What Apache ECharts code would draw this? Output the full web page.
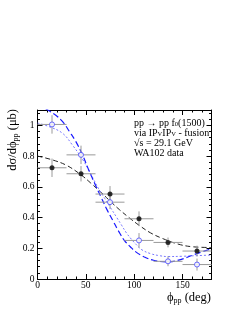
<!DOCTYPE html>
<html>
<head>
<meta charset="utf-8">
<script src="https://cdn.jsdelivr.net/npm/echarts@6/dist/echarts.min.js"></script>
<style>html,body{margin:0;padding:0;background:#fff}#c{width:241px;height:312px}</style>
</head>
<body>
<div id="c"></div>
<script>
// ---- data ----
var binCenters = [15, 45, 75, 105, 135, 165];
var binHalfWidth = 15;
var blackValues = [0.724, 0.685, 0.553, 0.392, 0.238, 0.182];
var blackErrors = [0.060, 0.050, 0.052, 0.048, 0.032, 0.035];
var blueValues  = [1.006, 0.808, 0.500, 0.251, 0.115, 0.094];
var blueErrors  = [0.060, 0.060, 0.045, 0.048, 0.032, 0.039];

var blackCurveX = [0, 15, 30, 45, 55, 65, 75, 85, 95, 105, 117, 130, 145, 160, 180];
var blackCurveY = [0.80, 0.776, 0.74, 0.678, 0.625, 0.568, 0.508, 0.45, 0.398, 0.35, 0.30, 0.262, 0.228, 0.21, 0.205];

var blueDashX = [0, 5, 10.6, 18, 26, 33, 39.7, 46.5, 53, 60, 66, 72, 78, 84, 90, 96, 102, 110, 120, 134, 148, 162, 180];
var blueDashY = [1.13, 1.12, 1.10, 1.07, 1.024, 0.96, 0.894, 0.808, 0.71, 0.61, 0.53, 0.45, 0.38, 0.31, 0.25, 0.21, 0.175, 0.145, 0.122, 0.111, 0.126, 0.159, 0.197];

var blueDotX = [0, 12, 26, 36, 46.5, 52, 57.5, 63, 69.5, 76, 82, 87, 92, 97, 102, 108, 117, 126, 135, 150, 165, 180];
var blueDotY = [1.015, 0.992, 0.948, 0.873, 0.78, 0.72, 0.655, 0.59, 0.525, 0.46, 0.40, 0.35, 0.30, 0.26, 0.225, 0.19, 0.165, 0.152, 0.146, 0.148, 0.152, 0.156];

var xTicks = [0, 50, 100, 150];
var yTicks = [0, 0.2, 0.4, 0.6, 0.8, 1];

function zip(a, b) { return a.map(function (v, i) { return [v, b[i]]; }); }

var FONT = '"Liberation Serif", "DejaVu Serif", serif';
var BLUE_DASH = '#1a1aff';
var BLUE_DOT = '#7777ff';
var BLUE_MARK = '#4646ff';
var ERR = '#9a9a9a';

function errorSeries(vals, errs, z) {
  return {
    type: 'custom',
    z: z,
    silent: true,
    data: binCenters.map(function (x, i) { return [x, vals[i], errs[i]]; }),
    renderItem: function (params, api) {
      var x = api.value(0), y = api.value(1), e = api.value(2);
      var l = api.coord([x - binHalfWidth, y]);
      var r = api.coord([x + binHalfWidth, y]);
      var t = api.coord([x, y + e]);
      var b = api.coord([x, y - e]);
      var st = { stroke: ERR, lineWidth: 1 };
      return {
        type: 'group',
        children: [
          { type: 'line', shape: { x1: l[0], y1: l[1], x2: r[0], y2: r[1] }, style: st },
          { type: 'line', shape: { x1: t[0], y1: t[1], x2: b[0], y2: b[1] }, style: st }
        ]
      };
    }
  };
}

var axisCommon = {
  type: 'value',
  axisLine: { show: true, onZero: false, lineStyle: { color: '#000', width: 1 } },
  splitLine: { show: false },
  axisTick: { show: true, inside: true, length: 5, lineStyle: { color: '#000' } },
  minorTick: { show: true, splitNumber: 5, length: 2.5, lineStyle: { color: '#000' } }
};

var richTitle = {
  n: { fontFamily: FONT, fontSize: 12.5, lineHeight: 14, verticalAlign: 'middle', fill: '#000' },
  s: { fontFamily: FONT, fontSize: 8, lineHeight: 4, verticalAlign: 'bottom', fill: '#000' }
};

var chart = echarts.init(document.getElementById('c'), null, { renderer: 'canvas' });
chart.setOption({
  animation: false,
  backgroundColor: '#fff',
  grid: { left: 37.5, right: 29.5, top: 110, bottom: 33, containLabel: false },
  xAxis: [
    Object.assign({}, axisCommon, {
      min: 0, max: 180, interval: 50, position: 'bottom',
      axisLabel: {
        show: true, margin: 1, color: '#000', fontFamily: FONT, fontSize: 9.5,
        showMaxLabel: false,
        formatter: function (v) { return xTicks.indexOf(v) >= 0 ? String(v) : ''; }
      }
    }),
    Object.assign({}, axisCommon, {
      min: 0, max: 180, interval: 50, position: 'top',
      axisLabel: { show: false }
    })
  ],
  yAxis: [
    Object.assign({}, axisCommon, {
      min: 0, max: 1.1, interval: 0.2, position: 'left',
      axisLabel: {
        show: true, margin: 3, color: '#000', fontFamily: FONT, fontSize: 9.5,
        showMaxLabel: false,
        formatter: function (v) {
          for (var i = 0; i < yTicks.length; i++) if (Math.abs(yTicks[i] - v) < 1e-6) return String(yTicks[i]);
          return '';
        }
      }
    }),
    Object.assign({}, axisCommon, {
      min: 0, max: 1.1, interval: 0.2, position: 'right',
      axisLabel: { show: false }
    })
  ],
  series: [
    {
      type: 'line', data: zip(blackCurveX, blackCurveY), smooth: 0.4, symbol: 'none', z: 3,
      lineStyle: { color: '#222', width: 1, type: [5, 3] }, clip: true
    },
    {
      type: 'line', data: zip(blueDotX, blueDotY), smooth: 0.4, symbol: 'none', z: 3,
      lineStyle: { color: BLUE_DOT, width: 1, type: [2, 2] }, clip: true
    },
    {
      type: 'line', data: zip(blueDashX, blueDashY), smooth: 0.4, symbol: 'none', z: 3,
      lineStyle: { color: BLUE_DASH, width: 1.2, type: [6, 3] }, clip: true
    },
    errorSeries(blackValues, blackErrors, 4),
    errorSeries(blueValues, blueErrors, 4),
    {
      type: 'scatter', data: zip(binCenters, blackValues), symbol: 'circle', symbolSize: 5, z: 5,
      itemStyle: { color: '#000' }
    },
    {
      type: 'scatter', data: zip(binCenters, blueValues), symbol: 'circle', symbolSize: 5, z: 5,
      itemStyle: { color: '#fff', borderColor: BLUE_MARK, borderWidth: 1 }
    }
  ],
  graphic: [
    {
      type: 'text', x: 13, y: 109, rotation: Math.PI / 2,
      style: {
        text: '{n|dσ/dϕ}{s|pp}{n| (μb)}',
        align: 'right', verticalAlign: 'middle',
        rich: richTitle
      }
    },
    {
      type: 'text', x: 211, y: 298,
      style: {
        text: '{n|ϕ}{s|pp}{n| (deg)}',
        align: 'right', verticalAlign: 'middle',
        rich: richTitle
      }
    },
    {
      type: 'text', x: 134, y: 118,
      style: {
        text: '{n|pp → pp f}{s|0}{n|(1500)}\n{n|via IP}{s|V}{n|IP}{s|V}{n| - fusion}\n{n|√s = 29.1 GeV}\n{n|WA102 data}',
        align: 'left', verticalAlign: 'top',
        rich: {
          n: { fontFamily: FONT, fontSize: 10, lineHeight: 10, verticalAlign: 'middle', fill: '#000' },
          s: { fontFamily: FONT, fontSize: 6.5, lineHeight: 2, verticalAlign: 'bottom', fill: '#000' }
        }
      }
    }
  ]
});
</script>
</body>
</html>
